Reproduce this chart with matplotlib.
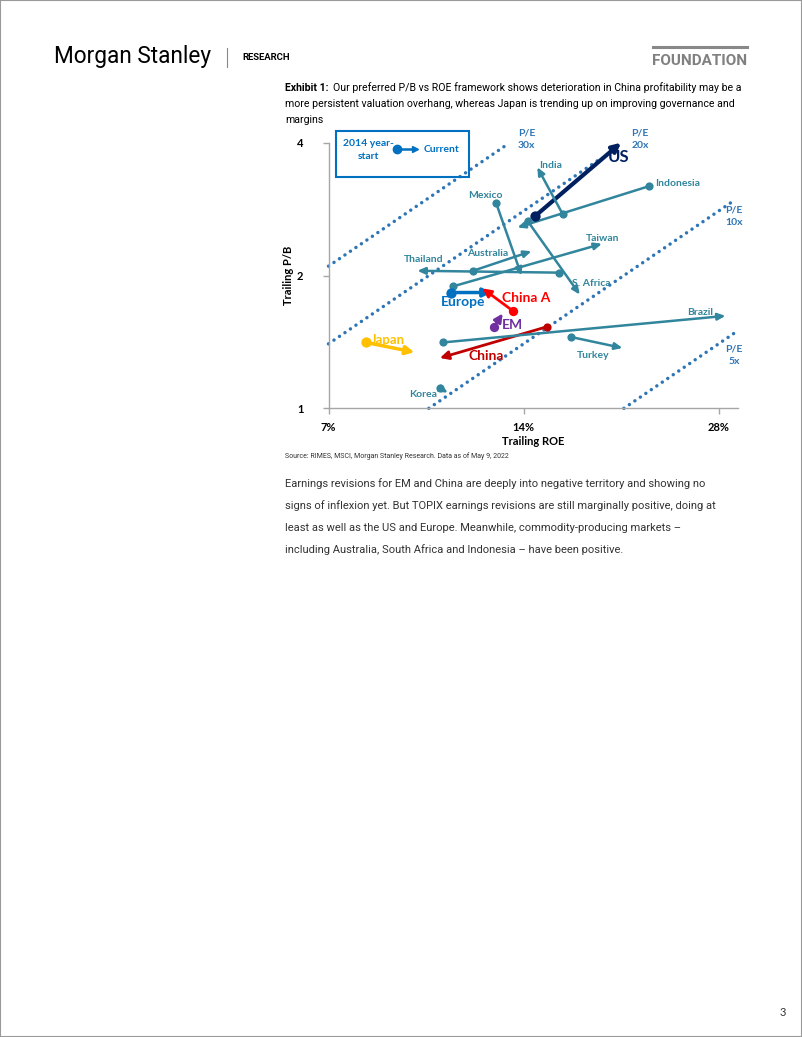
import matplotlib
matplotlib.use("Agg")
import matplotlib.pyplot as plt
from matplotlib.patches import Rectangle
from matplotlib.lines import Line2D
import numpy as np

# Markets: 2014 year-start (ROE %, P/B) -> current (ROE %, P/B)
markets = ["US", "India", "Indonesia", "Mexico", "S. Africa", "Taiwan", "Thailand",
           "Australia", "Europe", "China A", "EM", "China", "Brazil", "Turkey",
           "Korea", "Japan"]
roe_start = [14.6, 16.1, 21.9, 12.7, 14.2, 10.9, 15.9, 11.7, 10.8, 13.5, 12.6, 15.2, 10.5, 16.6, 10.4, 8.0]
pb_start = [2.73, 2.75, 3.19, 2.92, 2.66, 1.89, 2.03, 2.05, 1.83, 1.66, 1.53, 1.53, 1.41, 1.45, 1.11, 1.41]
roe_end = [19.8, 14.7, 13.7, 13.9, 17.1, 18.5, 9.6, 14.4, 12.5, 12.1, 13.0, 10.4, 28.7, 19.9, 10.7, 9.5]
pb_end = [4.00, 3.52, 2.57, 2.00, 1.81, 2.36, 2.05, 2.27, 1.83, 1.87, 1.64, 1.30, 1.62, 1.37, 1.085, 1.34]

# label placement (ROE %, P/B)
label_roe = [19.6, 15.4, 24.2, 12.24, 17.8, 18.55, 9.82, 12.33, 11.28, 14.11, 13.47, 12.24, 26.2, 17.9, 9.79, 8.65]
label_pb = [3.71, 3.56, 3.24, 3.04, 1.92, 2.43, 2.17, 2.24, 1.74, 1.78, 1.544, 1.314, 1.653, 1.314, 1.077, 1.428]

# iso P/E lines
pe_mult = [30, 20, 10, 5]
pe_roe_start = [7.0, 7.0, 10.0, 20.0]
pe_roe_end = [13.3, 18.5, 29.7, 29.6]
pe_label_roe = [14.16, 21.2, 29.6, 29.6]
pe_label_pb = [4.08, 4.08, 2.73, 1.32]

x_ticks = [7, 14, 28]
y_ticks = [1, 2, 4]

teal = "#31859C"
styles = {
    "US": dict(color="#002060", lw=3.0, ms=55, fs=12, hl=0.5, hw=0.25),
    "Europe": dict(color="#0070C0", lw=2.5, ms=55, fs=10, hl=0.5, hw=0.25),
    "China A": dict(color="#FF0000", lw=2.0, ms=45, fs=10, hl=0.5, hw=0.25),
    "EM": dict(color="#7030A0", lw=2.0, ms=45, fs=10, hl=0.5, hw=0.25),
    "China": dict(color="#C00000", lw=2.0, ms=35, fs=10, hl=0.5, hw=0.25),
    "Japan": dict(color="#FFC000", lw=2.5, ms=55, fs=9.5, hl=0.5, hw=0.25),
}

W, H = 802, 1037
fig = plt.figure(figsize=(W / 100, H / 100), dpi=100)
plt.rcParams['font.family'] = ['Lato', 'DejaVu Sans']
roboto = ["Roboto", "DejaVu Sans"]


def fx(px):
    return px / W


def fy(py):
    return 1 - py / H


ax = fig.add_axes([fx(328.5), fy(408.3), (738 - 328.5) / W, (408.3 - 142.7) / H])
ax.set_xscale("log")
ax.set_yscale("log")
ax.set_xlim(7, 30)
ax.set_ylim(1, 4)

for m, r0, r1, lx, ly in zip(pe_mult, pe_roe_start, pe_roe_end, pe_label_roe, pe_label_pb):
    rr = np.array([r0, r1])
    ax.plot(rr, m * rr / 100, color="#2E75B6", lw=2.5, linestyle=(0, (0.01, 1.9)),
            dash_capstyle="round", clip_on=False, zorder=1)
    ax.text(lx, ly, "P/E\n%dx" % m, color="#2E75B6", fontsize=7.5, fontweight="bold",
            ha="center", va="center", linespacing=1.5, clip_on=False)

for i, name in enumerate(markets):
    st = styles.get(name, dict(color=teal, lw=1.8, ms=35, fs=7.5, hl=0.45, hw=0.2))
    ax.annotate("", xy=(roe_end[i], pb_end[i]), xytext=(roe_start[i], pb_start[i]),
                arrowprops=dict(arrowstyle="-|>,head_length=%s,head_width=%s" % (st["hl"], st["hw"]),
                                color=st["color"], lw=st["lw"], shrinkA=0, shrinkB=0),
                zorder=3)
    ax.scatter([roe_start[i]], [pb_start[i]], s=st["ms"], color=st["color"], zorder=4,
               linewidths=0)
    ax.text(label_roe[i], label_pb[i], name, color=st["color"], fontsize=st["fs"],
            fontweight="bold", ha="center", va="center", zorder=5)

ax.set_xticks(x_ticks)
ax.set_xticklabels(["%d%%" % t for t in x_ticks])
ax.set_yticks(y_ticks)
ax.set_yticklabels([str(t) for t in y_ticks])
ax.xaxis.set_minor_locator(matplotlib.ticker.NullLocator())
ax.yaxis.set_minor_locator(matplotlib.ticker.NullLocator())
for s in ["top", "right"]:
    ax.spines[s].set_visible(False)
for s in ["left", "bottom"]:
    ax.spines[s].set_color("#A6A6A6")
    ax.spines[s].set_linewidth(1.0)
ax.tick_params(axis="both", colors="#A6A6A6", length=4, width=1.0, labelcolor="black",
               labelsize=8)
ax.tick_params(axis="y", pad=14)
ax.tick_params(axis="x", pad=6)
for lab in ax.get_xticklabels() + ax.get_yticklabels():
    lab.set_fontweight("bold")
ax.set_xlabel("Trailing ROE", fontsize=8, fontweight="bold", labelpad=2)
ax.set_ylabel("Trailing P/B", fontsize=8, fontweight="bold", labelpad=2)
ax.patch.set_alpha(0)

# legend box
fig.patches.append(Rectangle((fx(336), fy(177)), (469 - 336) / W, (177 - 131) / H,
                             transform=fig.transFigure, fill=False, edgecolor="#0070C0",
                             lw=1.5))
fig.text(fx(368), fy(150), "2014 year-\nstart", color="#0070C0", fontsize=7.5,
         fontweight="bold", ha="center", va="center", linespacing=1.6)
fig.lines.append(Line2D([fx(397), fx(412)], [fy(149), fy(149)], transform=fig.transFigure,
                        color="#0070C0", lw=1.8))
fig.lines.append(Line2D([fx(397)], [fy(149)], transform=fig.transFigure, color="#0070C0",
                        marker="o", ms=6, lw=0))
fig.lines.append(Line2D([fx(415)], [fy(149)], transform=fig.transFigure, color="#0070C0",
                        marker=">", ms=4.5, lw=0))
fig.text(fx(442), fy(149), "Current", color="#0070C0", fontsize=7.5, fontweight="bold",
         ha="center", va="center")

# page header
fig.text(fx(54), fy(57), "Morgan Stanley", fontsize=16.3, family=roboto,
         ha="left", va="center", color="black")
fig.lines.append(Line2D([fx(227), fx(227)], [fy(48), fy(67)], transform=fig.transFigure,
                        color="#888888", lw=0.8))
fig.text(fx(242), fy(58), "RESEARCH", fontsize=6.8, fontweight="bold", ha="left",
         va="center", color="black", family=roboto)
fig.lines.append(Line2D([fx(653), fx(747)], [fy(47), fy(47)], transform=fig.transFigure,
                        color="#888888", lw=2.2))
fig.text(fx(747), fy(61), "FOUNDATION", fontsize=11, fontweight="bold", ha="right",
         va="center", color="#808080", family=roboto)

fig.text(fx(285), fy(88), "Exhibit 1:", fontsize=7.6, fontweight="bold", family=roboto,
         ha="left", va="center")
fig.text(fx(333), fy(88), "Our preferred P/B vs ROE framework shows deterioration in China profitability may be a",
         fontsize=7.6, family=roboto, ha="left", va="center")
fig.text(fx(285), fy(104), "more persistent valuation overhang, whereas Japan is trending up on improving governance and",
         fontsize=7.6, family=roboto, ha="left", va="center")
fig.text(fx(285), fy(120), "margins", fontsize=7.6, family=roboto, ha="left", va="center")

fig.text(fx(285), fy(456), "Source: RIMES, MSCI, Morgan Stanley Research. Data as of May 9, 2022",
         fontsize=5, family=roboto, ha="left", va="center", color="#333333")

body = ["Earnings revisions for EM and China are deeply into negative territory and showing no",
        "signs of inflexion yet. But TOPIX earnings revisions are still marginally positive, doing at",
        "least as well as the US and Europe. Meanwhile, commodity-producing markets \u2013",
        "including Australia, South Africa and Indonesia \u2013 have been positive."]
for k, line in enumerate(body):
    fig.text(fx(285), fy(484 + 22 * k), line, fontsize=8.0, family=roboto,
             ha="left", va="center", color="#333333")

fig.text(fx(783), fy(1013), "3", fontsize=8, ha="center", va="center", color="#333333")

fig.patches.append(Rectangle((0, 0), 1, 1, transform=fig.transFigure, fill=False,
                             edgecolor="#999999", lw=1.5))

fig.savefig("out.png", dpi=100)
